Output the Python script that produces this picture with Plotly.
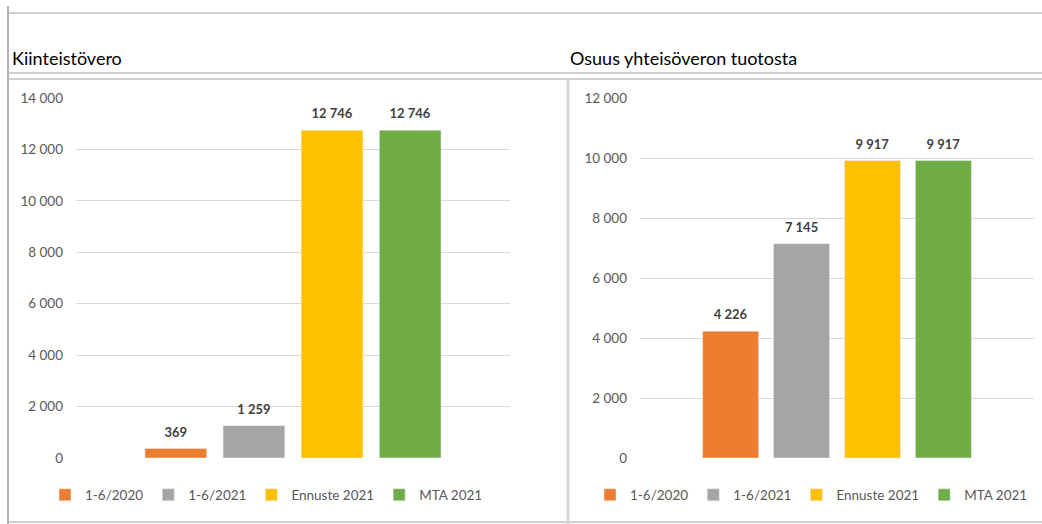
import plotly.graph_objects as go

series = ['1-6/2020', '1-6/2021', 'Ennuste 2021', 'MTA 2021']
colors = ['#ED7D31', '#A5A5A5', '#FFC000', '#70AD47']
kiinteistovero = [369, 1259, 12746, 12746]
yhteisovero = [4226, 7145, 9917, 9917]

W, H = 1042, 524
font = 'Lato'

# small base font + empty second line lifts the value label a bit above the bar, like Excel
label_tpl = '<span style="font-size:13px">%{y:,d}</span><br> '
label_font = dict(size=6, color='#404040', family=font, weight='bold')

fig = go.Figure()

for name, col, v in zip(series, colors, kiinteistovero):
    fig.add_trace(go.Bar(x=[''], y=[v], name=name, marker_color=col,
                         xaxis='x', yaxis='y', legend='legend',
                         texttemplate=label_tpl, textposition='outside',
                         cliponaxis=False, textfont=label_font))

for name, col, v in zip(series, colors, yhteisovero):
    fig.add_trace(go.Bar(x=[''], y=[v], name=name, marker_color=col,
                         xaxis='x2', yaxis='y2', legend='legend2',
                         texttemplate=label_tpl, textposition='outside',
                         cliponaxis=False, textfont=label_font))

px_x = lambda p: p / W
px_y = lambda p: 1 - p / H

yaxis_style = dict(showgrid=True, gridcolor='#d9d9d9', gridwidth=1, zeroline=False,
                   tickformat=',d', dtick=2000, showline=False, ticks='',
                   ticklabelstandoff=12, automargin=False,
                   tickfont=dict(size=13.5, color='#595959', family=font))
xaxis_style = dict(showticklabels=False, showline=False, showgrid=False, zeroline=False,
                   automargin=False)

# spreadsheet cell borders around the two charts
line = dict(color='#cfcfcf', width=2)
shapes = [
    dict(type='line', xref='paper', yref='paper', x0=px_x(8), x1=1, y0=px_y(13), y1=px_y(13), line=line),
    dict(type='line', xref='paper', yref='paper', x0=px_x(8), x1=1, y0=px_y(73), y1=px_y(73), line=line),
    dict(type='line', xref='paper', yref='paper', x0=px_x(8), x1=1, y0=px_y(79), y1=px_y(79), line=line),
    dict(type='line', xref='paper', yref='paper', x0=px_x(8), x1=1, y0=px_y(522), y1=px_y(522), line=line),
    dict(type='line', xref='paper', yref='paper', x0=px_x(8), x1=px_x(8), y0=px_y(6), y1=0,
         line=dict(color='#b4b4b4', width=2)),
    dict(type='line', xref='paper', yref='paper', x0=px_x(568), x1=px_x(568), y0=px_y(79), y1=0,
         line=dict(color='#d6d6d6', width=3)),
]

titles = [
    dict(text='Kiinteistövero', x=px_x(10), y=px_y(71), xref='paper', yref='paper',
         xanchor='left', yanchor='bottom', showarrow=False,
         font=dict(size=18, color='#000000', family=font)),
    dict(text='Osuus yhteisöveron tuotosta', x=px_x(568), y=px_y(71), xref='paper', yref='paper',
         xanchor='left', yanchor='bottom', showarrow=False,
         font=dict(size=18, color='#000000', family=font)),
]

legend_style = dict(orientation='h', yanchor='middle', xanchor='left',
                    xref='container', yref='container',
                    font=dict(size=13.5, color='#595959', family=font),
                    itemwidth=30, bgcolor='rgba(0,0,0,0)', traceorder='normal')

fig.update_layout(
    width=W, height=H,
    margin=dict(l=0, r=0, t=0, b=0, autoexpand=False),
    paper_bgcolor='white', plot_bgcolor='white',
    separators=', ',
    barmode='group', bargap=0.28, bargroupgap=0.21,
    xaxis=dict(domain=[px_x(76), px_x(510)], anchor='y', **xaxis_style),
    yaxis=dict(domain=[px_y(458), px_y(98)], range=[0, 14000], anchor='x', **yaxis_style),
    xaxis2=dict(domain=[px_x(640), px_x(1034)], anchor='y2', **xaxis_style),
    yaxis2=dict(domain=[px_y(458), px_y(98)], range=[0, 12000], anchor='x2', **yaxis_style),
    legend=dict(x=px_x(45), y=px_y(495), **legend_style),
    legend2=dict(x=px_x(590), y=px_y(495), **legend_style),
    shapes=shapes,
    annotations=titles,
    font=dict(family=font),
)

fig.write_html("out.html", config={'displayModeBar': False},
               post_script="document.body.style.margin='0';document.body.style.overflow='hidden';")
